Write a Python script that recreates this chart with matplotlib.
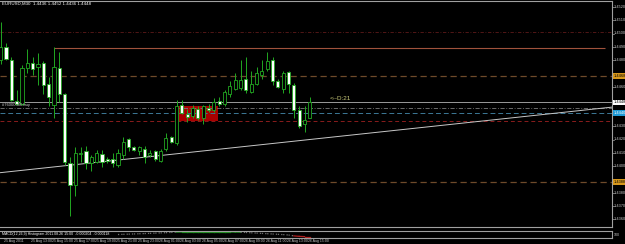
import matplotlib
matplotlib.use('Agg')
import matplotlib.pyplot as plt
import matplotlib.transforms as mtransforms
from matplotlib.patches import Rectangle

plt.rcParams['font.family'] = ['Liberation Sans', 'DejaVu Sans']

# ---------------- data ----------------
symbol_header = "EURUSD,M30  1.4436 1.4452 1.4436 1.4448"

opens = [1.4480, 1.4490, 1.4480, 1.4449, 1.4447, 1.4474, 1.4478, 1.4475, 1.4478, 1.4462,
         1.4446, 1.4474, 1.4454, 1.4402, 1.4386, 1.4409, 1.4411, 1.4402, 1.4403, 1.4409,
         1.4405, 1.4405, 1.4401, 1.4408, 1.4420, 1.4414, 1.4411, 1.4413, 1.4408, 1.4411,
         1.4404, 1.4413, 1.4422, 1.4417, 1.4446, 1.4439, 1.4438, 1.4443, 1.4436, 1.4444,
         1.4442, 1.4449, 1.4447, 1.4454, 1.4458, 1.4459, 1.4466, 1.4456, 1.4462, 1.4469,
         1.4473, 1.4480, 1.4464, 1.4458, 1.4471, 1.4461, 1.4442, 1.4432, 1.4436]
highs = [1.4509, 1.4493, 1.4482, 1.4457, 1.4476, 1.4488, 1.4482, 1.4485, 1.4479, 1.4467,
         1.4490, 1.4486, 1.4455, 1.4407, 1.4414, 1.4414, 1.4415, 1.4408, 1.4412, 1.4412,
         1.4407, 1.4410, 1.4413, 1.4422, 1.4421, 1.4415, 1.4415, 1.4415, 1.4412, 1.4412,
         1.4413, 1.4425, 1.4423, 1.4450, 1.4450, 1.4443, 1.4446, 1.4445, 1.4446, 1.4447,
         1.4451, 1.4452, 1.4457, 1.4464, 1.4470, 1.4480, 1.4482, 1.4472, 1.4475, 1.4480,
         1.4486, 1.4482, 1.4466, 1.4472, 1.4472, 1.4463, 1.4445, 1.4445, 1.4452]
lows = [1.4477, 1.4480, 1.4449, 1.4446, 1.4446, 1.4470, 1.4469, 1.4461, 1.4454, 1.4445,
        1.4436, 1.4448, 1.4401, 1.4362, 1.4377, 1.4403, 1.4398, 1.4396, 1.4402, 1.4399,
        1.4402, 1.4399, 1.4399, 1.4405, 1.4411, 1.4411, 1.4408, 1.4402, 1.4407, 1.4404,
        1.4403, 1.4411, 1.4417, 1.4416, 1.4439, 1.4433, 1.4436, 1.4435, 1.4432, 1.4441,
        1.4441, 1.4445, 1.4445, 1.4452, 1.4457, 1.4457, 1.4455, 1.4455, 1.4461, 1.4466,
        1.4472, 1.4461, 1.4459, 1.4455, 1.4455, 1.4436, 1.4429, 1.4426, 1.4436]
closes = [1.4490, 1.4481, 1.4450, 1.4447, 1.4474, 1.4478, 1.4473, 1.4477, 1.4461, 1.4452,
          1.4475, 1.4454, 1.4403, 1.4386, 1.4410, 1.4410, 1.4402, 1.4407, 1.4410, 1.4403,
          1.4404, 1.4402, 1.4410, 1.4418, 1.4414, 1.4412, 1.4414, 1.4407, 1.4410, 1.4405,
          1.4411, 1.4421, 1.4418, 1.4445, 1.4440, 1.4437, 1.4444, 1.4436, 1.4445, 1.4442,
          1.4448, 1.4447, 1.4456, 1.4460, 1.4465, 1.4465, 1.4457, 1.4462, 1.4470, 1.4472,
          1.4479, 1.4464, 1.4460, 1.4470, 1.4462, 1.4442, 1.4430, 1.4435, 1.4448]

time_label_idx = [1, 6, 10, 14, 18, 22, 26, 30, 34, 38, 42, 46, 50, 54, 58]
time_labels = ["25 Aug 2011", "25 Aug 13:00", "25 Aug 15:00", "25 Aug 17:00", "25 Aug 19:00",
               "25 Aug 21:00", "25 Aug 23:00", "26 Aug 01:00", "26 Aug 03:00", "26 Aug 05:00",
               "26 Aug 07:00", "26 Aug 09:00", "26 Aug 11:00", "26 Aug 13:00", "26 Aug 15:00"]

price_ticks = [1.4520, 1.4510, 1.4500, 1.4490, 1.4480, 1.4470, 1.4460, 1.4450, 1.4440,
               1.4430, 1.4420, 1.4410, 1.4400, 1.4390, 1.4380, 1.4370, 1.4360]

# horizontal levels
level_res_far = 1.4501      # dark red dash-dot
level_res_solid = 1.4489    # brown solid (drawn from bar 10)
level_res_solid_start = 10
level_upper = 1.4468        # brown dashed, orange label
level_white = 1.4448        # white line / label
level_dashdot = 1.4444
level_bid = 1.4440          # cyan
level_red = 1.4434          # dark red dashed
level_lower = 1.4388        # brown dashed, orange label

trend_idx = [0, 58]
trend_price = [1.4395, 1.4420]

zone_idx = [33.3, 40.8]
zone_price = [1.4434, 1.4445]

note_text = "<--D:21"
note_idx = 61.8
note_price = 1.4451

left_label = "#76000000 buy"
left_label_price = 1.4446

osc_start = 22
osc_values = [0.0, 0.08, 0.15, 0.22, 0.3, 0.38, 0.46, 0.55, 0.64, 0.73, 0.82,
              0.95, 1.0, 1.0, 1.0, 1.0, 1.0, 1.0, 1.0, 1.0, 1.0, 1.0, 0.98, 0.92,
              0.8, 0.68, 0.56, 0.44, 0.32, 0.2, 0.08, -0.05, -0.2,
              -0.55, -0.75, -0.85, -0.85]
osc_text = "MACD(12,26,9) Histogram 2011.08.26 15:00  -0.000204  -0.000118"

# ---------------- layout ----------------
W, H = 625, 244
fig = plt.figure(figsize=(W / 100, H / 100), dpi=100, facecolor='black')

def fr(x0, y0, x1, y1):
    return [x0 / W, 1 - y1 / H, (x1 - x0) / W, (y1 - y0) / H]

ax = fig.add_axes(fr(0, 1, 612, 227))
ax.set_facecolor('black')
spacing = 5.33
ax.set_xlim(-0.7 / spacing, (612 - 0.7) / spacing)
ax.set_ylim(1.4520 - 220 / 13250, 1.4520 + 6 / 13250)
ax.set_xticks([]); ax.set_yticks([])
ax.spines['left'].set_visible(False)
for s in ['top', 'bottom', 'right']:
    ax.spines[s].set_color('#a0a0a0'); ax.spines[s].set_linewidth(0.8)

x0, x1 = ax.get_xlim()

# zone rectangle
ax.add_patch(Rectangle((zone_idx[0], zone_price[0]), zone_idx[1] - zone_idx[0],
                       zone_price[1] - zone_price[0], facecolor='#a80000', edgecolor='none', zorder=1))

# levels
ax.axhline(level_res_far, color='#5e1a1a', lw=0.6, ls=(0, (4, 2, 1, 2)), zorder=1)
ax.hlines(level_res_solid, level_res_solid_start, (605 - 0.7) / spacing, color='#a0523c', lw=0.8, zorder=1)
ax.axhline(level_upper, color='#6e4a2a', lw=0.9, ls=(0, (5, 3)), zorder=1)
ax.axhline(level_white, color='#9a9a9a', lw=0.7, zorder=1)
ax.axhline(level_dashdot, color='#7a7a7a', lw=0.6, ls=(0, (5, 2, 1, 2)), zorder=1)
ax.axhline(level_bid, color='#3c7896', lw=0.7, ls=(0, (5, 3)), zorder=1)
ax.axhline(level_red, color='#8a1c1c', lw=0.7, ls=(0, (4, 3)), zorder=1)
ax.axhline(level_lower, color='#6e4a2a', lw=0.9, ls=(0, (5, 3)), zorder=1)

# trendline (ray)
slope = (trend_price[1] - trend_price[0]) / (trend_idx[1] - trend_idx[0])
ax.plot([x0, x1], [trend_price[0] + slope * (x0 - trend_idx[0]), trend_price[0] + slope * (x1 - trend_idx[0])],
        color='#c8c8c8', lw=0.7, zorder=2)

# candles
green = '#22a822'
bw = 0.58
for i, (o, h, l, c) in enumerate(zip(opens, highs, lows, closes)):
    ax.vlines(i, l, h, color=green, lw=0.7, zorder=3)
    bottom = min(o, c); height = max(abs(c - o), 0.00003)
    face = 'black' if c >= o else 'white'
    ax.add_patch(Rectangle((i - bw / 2, bottom), bw, height, facecolor=face,
                           edgecolor=green, lw=0.6, zorder=4))

# texts
ax.text(x0 + 2 / spacing, 1.4520 + 3 / 13250, symbol_header, color='white', fontsize=3.2,
        va='center', ha='left', zorder=6)
ax.text(x0 + 2 / spacing, left_label_price, left_label, color='#d0d0d0', fontsize=3.0,
        va='center', ha='left', zorder=6)
ax.text(note_idx, note_price, note_text, color='#c8c878', fontsize=4.6, va='center', ha='left', zorder=6)

# right price axis labels
trans = mtransforms.blended_transform_factory(fig.transFigure, ax.transData)
box_levels = [level_upper, level_lower, level_white, level_bid]
for p in price_ticks:
    ax.plot([612 / W, 614 / W], [p, p], transform=trans, color='#a0a0a0', lw=0.5, clip_on=False)
    if min(abs(p - b) for b in box_levels) < 0.0006:
        continue
    ax.text(614 / W, p, f"{p:.4f}", transform=trans, color='#c8c8c8', fontsize=2.8,
            va='center', ha='left', clip_on=False)

def box_label(p, fc, tc):
    ax.text(614 / W, p, f"{p:.4f}", transform=trans, color=tc, fontsize=2.8, va='center', ha='left',
            clip_on=False, zorder=10,
            bbox=dict(boxstyle='square,pad=0.2', facecolor=fc, edgecolor='none'))

box_label(level_upper, '#d8981c', 'black')
box_label(level_lower, '#d8981c', 'black')
box_label(level_white, 'white', 'black')
box_label(level_bid, '#1e9ad6', 'white')

# indicator sub window
axs = fig.add_axes(fr(0, 231, 612, 238))
axs.set_facecolor('black')
axs.set_xlim(x0, x1)
axs.set_ylim(-1.4, 1.4)
axs.set_xticks([]); axs.set_yticks([])
axs.spines['left'].set_visible(False)
for s in ['top', 'bottom', 'right']:
    axs.spines[s].set_color('#a0a0a0'); axs.spines[s].set_linewidth(0.8)
xs = list(range(osc_start, osc_start + len(osc_values)))
for k in range(len(xs) - 1):
    v = (osc_values[k] + osc_values[k + 1]) / 2
    if v > 0.9:
        col, ls = '#1e8c1e', '-'
    elif v < -0.4:
        col, ls = '#b01e1e', '-'
    else:
        col, ls = '#707070', ':'
    axs.plot(xs[k:k + 2], osc_values[k:k + 2], color=col, lw=0.9, ls=ls)
axs.text(x0 + 2 / spacing, 0, osc_text, color='white', fontsize=2.6, va='center', ha='left')
fig.text(614 / W, 1 - 235 / H, "100", color='#c8c8c8', fontsize=2.6, va='center', ha='left')

# time axis labels
ttrans = mtransforms.blended_transform_factory(ax.transData, fig.transFigure)
for idx, lab in zip(time_label_idx, time_labels):
    ax.text(idx - 0.3, 1 - 241 / H, lab, transform=ttrans, color='#c8c8c8', fontsize=2.5,
            va='center', ha='left', clip_on=False)

fig.savefig('out.png', dpi=100, facecolor='black')
